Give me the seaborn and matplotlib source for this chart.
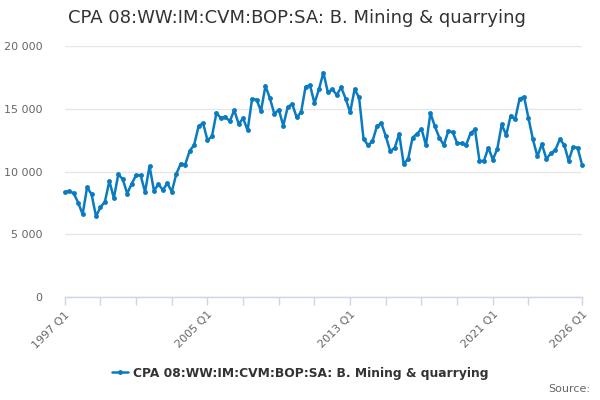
import pandas as pd
import numpy as np
import matplotlib
matplotlib.use('Agg')
import matplotlib.pyplot as plt
import seaborn as sns
from matplotlib.ticker import FuncFormatter

title = 'CPA 08:WW:IM:CVM:BOP:SA: B. Mining & quarrying'
start_year = 1997

# quarterly values, 1997 Q1 .. 2026 Q1
values = [
    8340, 8450, 8260, 7520,
    6590, 8740, 8190, 6430,
    7150, 7600, 9250, 7870,
    9780, 9380, 8240, 9030,
    9700, 9700, 8370, 10440,
    8470, 8980, 8530, 9060,
    8390, 9800, 10620, 10540,
    11640, 12110, 13600, 13870,
    12490, 12800, 14640, 14270,
    14370, 14000, 14880, 13790,
    14240, 13280, 15780, 15730,
    14820, 16820, 15840, 14590,
    14930, 13650, 15140, 15380,
    14320, 14720, 16760, 16870,
    15440, 16550, 17880, 16310,
    16550, 16100, 16710, 15780,
    14720, 16550, 15900, 12600,
    12100, 12400, 13600, 13850,
    12800, 11600, 11900, 13000,
    10600, 11000, 12700, 13000,
    13400, 12100, 14650, 13600,
    12700, 12100, 13200, 13150,
    12250, 12250, 12100, 13050,
    13350, 10850, 10850, 11900,
    10950, 11800, 13750, 12900,
    14450, 14150, 15800, 15950,
    14250, 12550, 11200, 12200,
    11000, 11450, 11700, 12550,
    12150, 10850, 11950, 11900,
    10550,
]

quarters = [f'{start_year + i // 4} Q{i % 4 + 1}' for i in range(len(values))]
df = pd.DataFrame({'idx': range(len(values)), 'quarter': quarters, 'value': values})

line_color = '#0b7bc1'
axis_color = '#ccd6eb'

sns.set_theme(style='white')
plt.rcParams['font.family'] = ['DejaVu Sans']

fig = plt.figure(figsize=(6, 4), dpi=100)
ax = fig.add_axes([0.108, 0.2575, 0.862, 0.6275])

sns.lineplot(data=df, x='idx', y='value', ax=ax, color=line_color, linewidth=1.8,
             marker='o', markersize=3.5, markeredgewidth=0, clip_on=False,
             label=title, legend=False)

ax.set_xlim(0, len(values) - 1)
ax.set_ylim(0, 20000)
ax.set_yticks([0, 5000, 10000, 15000, 20000])
ax.yaxis.set_major_formatter(FuncFormatter(lambda v, p: f'{int(v):,}'.replace(',', ' ')))
ax.grid(axis='y', color='#e6e6e6', linewidth=1)
ax.set_axisbelow(True)

# ticks every 2 years, labels every 8 years plus the last quarter
last = len(values) - 1
tick_pos = list(range(0, 105, 8)) + [last]
labelled = {0, 32, 64, 96, last}
ax.set_xticks(tick_pos)
ax.set_xticklabels([quarters[i] if i in labelled else '' for i in tick_pos],
                   rotation=45, ha='right', rotation_mode='anchor')
ax.tick_params(axis='x', length=6, width=1, color=axis_color, labelsize=8,
               labelcolor='#666666', pad=3, bottom=True)
ax.tick_params(axis='y', length=0, labelsize=8, labelcolor='#666666', pad=16)

for s in ['top', 'right', 'left']:
    ax.spines[s].set_visible(False)
ax.spines['bottom'].set_color(axis_color)
ax.spines['bottom'].set_linewidth(1)
ax.set_xlabel('')
ax.set_ylabel('')

fig.text(0.113, 0.955, title, fontsize=13, color='#333333', va='center', ha='left')

handles, labels = ax.get_legend_handles_labels()
leg = fig.legend(handles, labels, loc='center', bbox_to_anchor=(0.5, 0.067),
                 frameon=False, handlelength=1.3, handletextpad=0.4,
                 prop={'weight': 'bold', 'size': 8.8})
for t in leg.get_texts():
    t.set_color('#333333')

fig.text(0.983, 0.027, 'Source:', fontsize=8, color='#666666', ha='right', va='center')

fig.savefig('out.png', dpi=100)
